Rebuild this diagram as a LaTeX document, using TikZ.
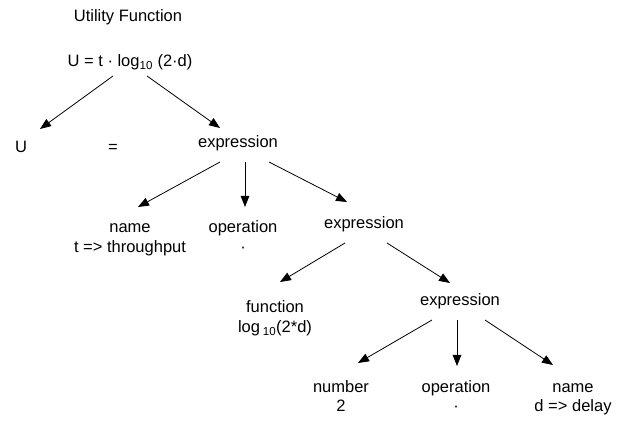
\documentclass[tikz,border=0pt]{standalone}
\usepackage{fontspec}
\setmainfont{Liberation Sans}
\usetikzlibrary{arrows.meta}
\tikzset{
  lbl/.style={inner sep=0pt, outer sep=0pt, anchor=base, align=center,
    font=\fontsize{16.5}{19.5}\selectfont},
  arr/.style={-{Triangle[length=11pt,width=8.5pt]}, line width=0.8pt, black}
}
\begin{document}
\begin{tikzpicture}[x=1pt,y=-1pt]
\useasboundingbox (0,0) rectangle (630,422);
\node[lbl] (title) at (128,22) {Utility Function};
\node[lbl] (formula) at (130,67) {U = t · log\textsubscript{10} (2·d)};
\node[lbl] (U) at (21,153) {U};
\node[lbl] (eq) at (113,153) {=};
\node[lbl] (expr1) at (238,148) {expression};
\node[lbl] (name1) at (130,252.5) {name\\t => throughput};
\node[lbl] (op1) at (243,252.5) {operation\\·};
\node[lbl] (expr2) at (364,229) {expression};
\node[lbl] (func) at (275,332.5) {function\\log\,\textsubscript{10}(2*d)};
\node[lbl] (expr3) at (460,306) {expression};
\node[lbl] (num) at (341,411.5) {number\\2};
\node[lbl] (op2) at (456,411.5) {operation\\·};
\node[lbl] (name2) at (573,411.5) {name\\d => delay};
% connectors
\draw[arr] ([shift={(-17,9)}]formula.base) -- ([shift={(19,-24)}]U.base);
\draw[arr] ([shift={(17,9)}]formula.base) -- ([shift={(-18,-20)}]expr1.base);
\draw[arr] ([shift={(-18,14)}]expr1.base) -- ([shift={(8,-45.5)}]name1.base);
\draw[arr] ([shift={(7,14)}]expr1.base) -- ([shift={(2,-45.5)}]op1.base);
\draw[arr] ([shift={(31,14)}]expr1.base) -- ([shift={(-17,-27)}]expr2.base);
\draw[arr] ([shift={(-19,14)}]expr2.base) -- ([shift={(5,-50.5)}]func.base);
\draw[arr] ([shift={(23,14)}]expr2.base) -- ([shift={(-10,-23)}]expr3.base);
\draw[arr] ([shift={(-28,14)}]expr3.base) -- ([shift={(17,-48.5)}]num.base);
\draw[arr] ([shift={(-3,14)}]expr3.base) -- ([shift={(1,-45.5)}]op2.base);
\draw[arr] ([shift={(25,14)}]expr3.base) -- ([shift={(-20,-46.5)}]name2.base);
\end{tikzpicture}
\end{document}
